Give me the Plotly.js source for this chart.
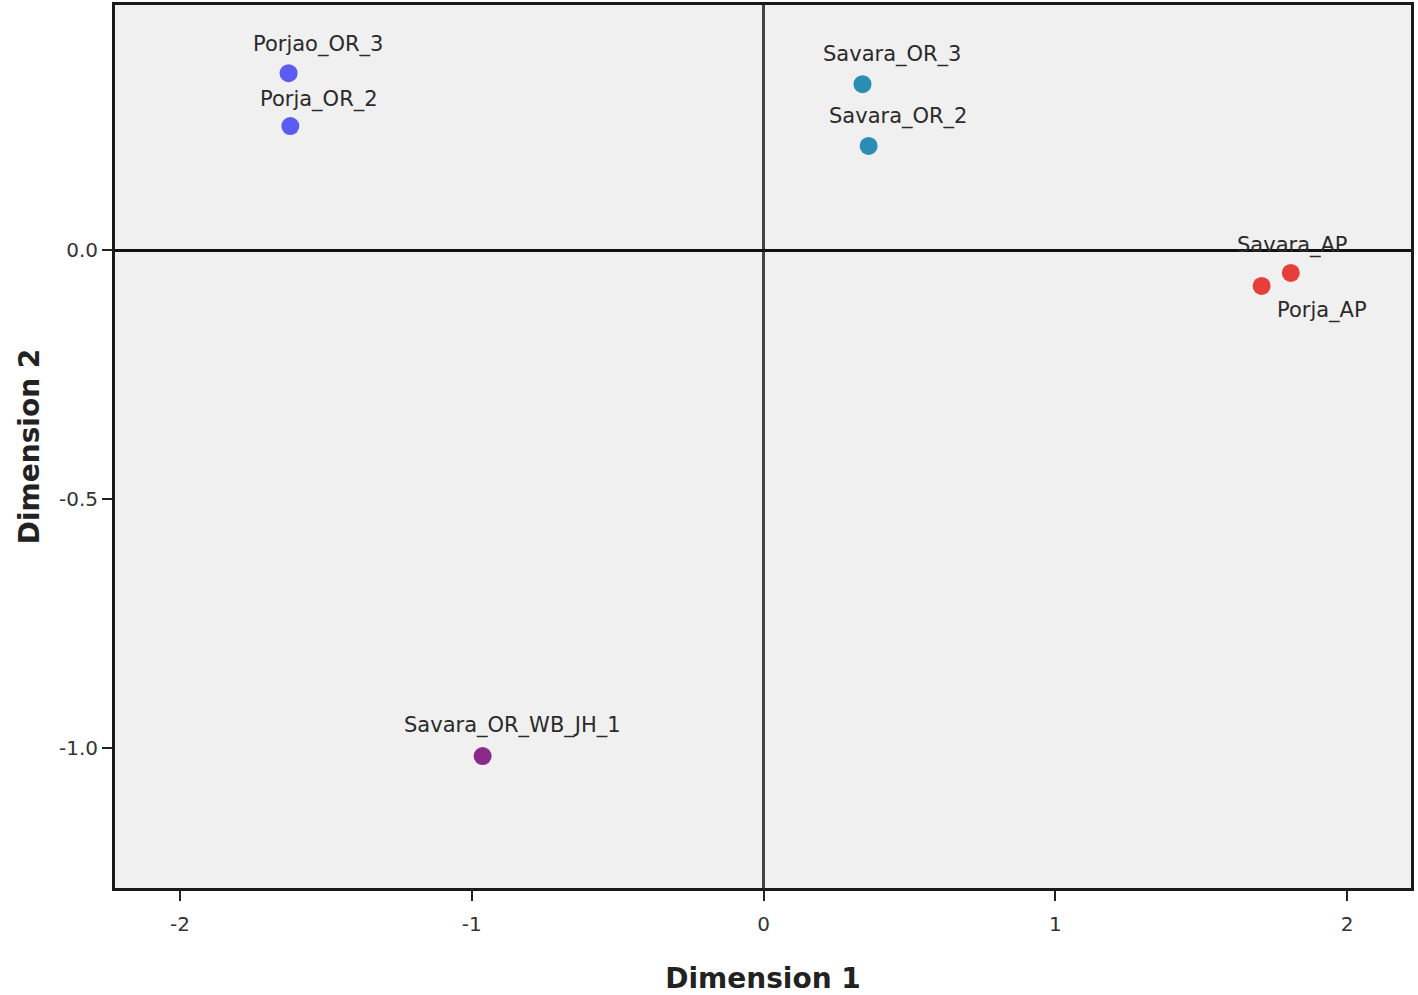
<!DOCTYPE html>
<html>
<head>
<meta charset="utf-8">
<script src="https://cdn.plot.ly/plotly-3.0.1.min.js"></script>
<style>
  html, body { margin: 0; padding: 0; background: #fff; }
  #chart { width: 1418px; height: 995px; }
</style>
</head>
<body>
<div id="chart"></div>
<script>
// point labels and coordinates
const labels = ["Porjao_OR_3", "Porja_OR_2", "Savara_OR_3", "Savara_OR_2", "Savara_AP", "Porja_AP", "Savara_OR_WB_JH_1"];
const dim1 = [-1.628, -1.622, 0.339, 0.360, 1.807, 1.707, -0.963];
const dim2 = [0.355, 0.249, 0.333, 0.209, -0.046, -0.072, -1.016];
const groups = ["porjaOR", "porjaOR", "savaraOR", "savaraOR", "ap", "ap", "wb"];

const xTickVals = [-2, -1, 0, 1, 2];
const xTickText = ["-2", "-1", "0", "1", "2"];
const yTickVals = [0, -0.5, -1];
const yTickText = ["0.0", "-0.5", "-1.0"];

// styling
const groupColors = { porjaOR: "#5a5cf4", savaraOR: "#2b8db3", ap: "#e63f3a", wb: "#8c2a8c" };
// label offsets in px (dx, dy) relative to each point
const labelShift = [[29, 29], [29, 27], [30, 30], [29, 29], [2, 27], [60, -25], [30, 31]];
const fontFam = "DejaVu Sans, Verdana, sans-serif";

const trace = {
    x: dim1,
    y: dim2,
    mode: "markers",
    type: "scatter",
    marker: { size: 18, color: groups.map(g => groupColors[g]) },
    hoverinfo: "text",
    text: labels,
    showlegend: false
};

const annotations = labels.map((t, i) => ({
    x: dim1[i],
    y: dim2[i],
    xref: "x",
    yref: "y",
    text: t,
    showarrow: false,
    xshift: labelShift[i][0],
    yshift: labelShift[i][1],
    font: { family: fontFam, size: 21, color: "#2a2a2a" }
}));

const layout = {
    width: 1418,
    height: 995,
    margin: { l: 115, r: 7, t: 5, b: 107 },
    paper_bgcolor: "#ffffff",
    plot_bgcolor: "#f0f0f0",
    font: { family: fontFam, color: "#333" },
    xaxis: {
        range: [-2.223, 2.219],
        tickvals: xTickVals,
        ticktext: xTickText,
        ticks: "outside",
        ticklen: 10,
        tickwidth: 2,
        tickcolor: "#222",
        ticklabelstandoff: 6,
        tickfont: { size: 20, color: "#333" },
        showgrid: false,
        zeroline: true,
        zerolinecolor: "#444",
        zerolinewidth: 3,
        showline: true,
        linecolor: "#1a1a1a",
        linewidth: 3,
        mirror: true,
        title: { text: "Dimension 1", font: { size: 28, color: "#222", weight: "bold" }, standoff: 34 }
    },
    yaxis: {
        range: [-1.281, 0.492],
        tickvals: yTickVals,
        ticktext: yTickText,
        ticks: "outside",
        ticklen: 10,
        tickwidth: 2,
        tickcolor: "#222",
        tickfont: { size: 20, color: "#333" },
        showgrid: false,
        zeroline: true,
        zerolinecolor: "#111",
        zerolinewidth: 3,
        showline: true,
        linecolor: "#1a1a1a",
        linewidth: 3,
        mirror: true,
        title: { text: "Dimension 2", font: { size: 28, color: "#222", weight: "bold" }, standoff: 12 }
    },
    annotations: annotations
};

Plotly.newPlot("chart", [trace], layout, { displayModeBar: false, staticPlot: true });
</script>
</body>
</html>
